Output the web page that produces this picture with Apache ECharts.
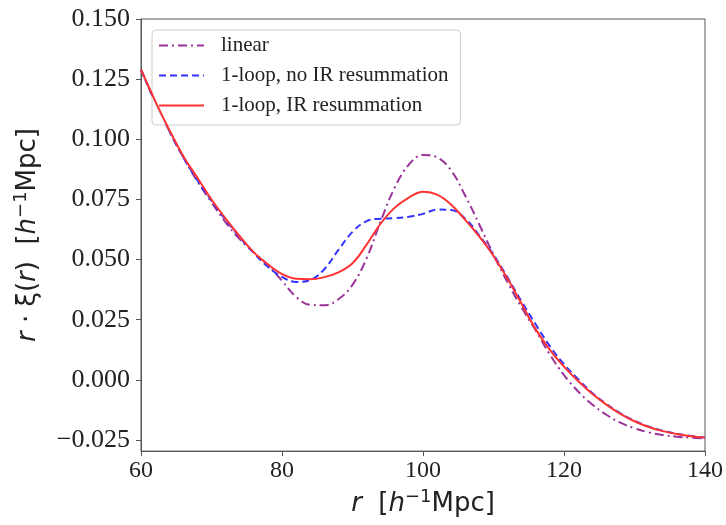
<!DOCTYPE html>
<html>
<head>
<meta charset="utf-8">
<script src="https://cdn.jsdelivr.net/npm/echarts@6/dist/echarts.min.js"></script>
<style>
  html, body { margin: 0; padding: 0; background: #fff; }
  #chart { width: 726px; height: 525px; }
</style>
</head>
<body>
<div id="chart"></div>
<script>
// r values [h^-1 Mpc], step 2
const radii = [60, 62, 64, 66, 68, 70, 72, 74, 76, 78, 80, 82, 84, 86, 88, 90, 92, 94, 96, 98, 100,
  102, 104, 106, 108, 110, 112, 114, 116, 118, 120, 122, 124, 126, 128, 130, 132, 134, 136, 138, 140]

// r * xi(r)
const linear = [0.129, 0.1155, 0.1035, 0.0925, 0.0825, 0.0738, 0.0655, 0.0585, 0.053, 0.0478, 0.0412,
  0.0345, 0.0312, 0.031, 0.0335, 0.0395, 0.0505, 0.066, 0.080, 0.0895, 0.0935,
  0.0925, 0.087, 0.0765, 0.0645, 0.052, 0.0405, 0.030, 0.0205, 0.0105, 0.002,
  -0.0048, -0.0102, -0.0145, -0.0178, -0.0201, -0.0218, -0.0229, -0.0236, -0.024, -0.0243]

const oneLoopNoIR = [0.129, 0.1155, 0.1035, 0.0925, 0.083, 0.0745, 0.0665, 0.0593, 0.0527, 0.047, 0.0428,
  0.0407, 0.0415, 0.046, 0.054, 0.0615, 0.066, 0.067, 0.0672, 0.0678, 0.069,
  0.0708, 0.0706, 0.067, 0.060, 0.052, 0.0425, 0.0325, 0.023, 0.014, 0.0065,
  0.0003, -0.0054, -0.010, -0.0139, -0.017, -0.0194, -0.0211, -0.0224, -0.0233, -0.024]

const oneLoopIR = [0.129, 0.116, 0.104, 0.093, 0.084, 0.075, 0.067, 0.0597, 0.053, 0.048, 0.044,
  0.042, 0.0418, 0.0427, 0.0447, 0.0485, 0.0562, 0.065, 0.0716, 0.0758, 0.0782,
  0.077, 0.0728, 0.0665, 0.0595, 0.0515, 0.042, 0.0315, 0.021, 0.0125, 0.0055,
  -0.0005, -0.0058, -0.0103, -0.0141, -0.0172, -0.0196, -0.0213, -0.0225, -0.0234, -0.024]

const xTicks = [60, 80, 100, 120, 140]
const yTicks = [-0.025, 0, 0.025, 0.05, 0.075, 0.1, 0.125, 0.15]

const serif = 'Liberation Serif'
const sans = 'DejaVu Sans'
const textColor = '#222'

function pairs (ys) {
  return radii.map((r, i) => [r, ys[i]])
}

const nameRich = {
  i: { fontFamily: sans, fontSize: 26, fontStyle: 'italic', color: textColor },
  n: { fontFamily: sans, fontSize: 26, color: textColor },
  sup: { fontFamily: sans, fontSize: 18, color: textColor, verticalAlign: 'top' }
}

const chart = echarts.init(document.getElementById('chart'), null, { renderer: 'canvas', width: 726, height: 525 })

const option = {
  animation: false,
  backgroundColor: '#fff',
  grid: {
    left: 141, right: 19, top: 19, bottom: 67,
    show: true, borderColor: '#555', borderWidth: 1, backgroundColor: 'transparent'
  },
  legend: {
    orient: 'vertical',
    left: 152,
    top: 30,
    padding: [5, 12, 9, 6],
    itemGap: 9,
    itemWidth: 45,
    itemHeight: 19,
    borderColor: '#ccc',
    borderWidth: 1,
    borderRadius: 4,
    backgroundColor: 'rgba(255,255,255,0.8)',
    itemStyle: { opacity: 0 },
    textStyle: { fontFamily: serif, fontSize: 21, color: textColor, padding: [0, 0, 0, 12] },
    data: ['linear', '1-loop, no IR resummation', '1-loop, IR resummation']
  },
  xAxis: {
    type: 'value',
    min: 60,
    max: 140,
    interval: 20,
    name: '{i|r}{n|  [}{i|h}{sup|−1}{n|Mpc]}',
    nameLocation: 'middle',
    nameGap: 32,
    nameTextStyle: { rich: nameRich, lineHeight: 32 },
    axisLine: { show: true, onZero: false, lineStyle: { color: '#555', width: 1 } },
    axisTick: { show: true, length: 5, lineStyle: { color: '#555' } },
    splitLine: { show: false },
    axisLabel: {
      fontFamily: serif, fontSize: 24, color: textColor, margin: 8,
      customValues: xTicks
    }
  },
  yAxis: {
    type: 'value',
    min: -0.0296,
    max: 0.15,
    name: '{i|r}{n| · ξ(}{i|r}{n|)  [}{i|h}{sup|−1}{n|Mpc]}',
    nameLocation: 'middle',
    nameGap: 97,
    nameRotate: 90,
    nameTextStyle: { rich: nameRich, lineHeight: 32 },
    axisLine: { show: true, onZero: false, lineStyle: { color: '#555', width: 1 } },
    axisTick: { show: true, length: 5, lineStyle: { color: '#555' }, customValues: yTicks },
    splitLine: { show: false },
    axisLabel: {
      fontFamily: serif, fontSize: 26, color: textColor, margin: 11,
      customValues: yTicks,
      formatter: v => (v < 0 ? '−' + (-v).toFixed(3) : v.toFixed(3))
    }
  },
  series: [
    {
      name: 'linear',
      type: 'line',
      data: pairs(linear),
      smooth: 0.4,
      showSymbol: false,
      symbol: 'none',
      z: 2,
      itemStyle: { color: '#993399' },
      lineStyle: { color: '#993399', width: 2, type: [9, 4, 2, 4] }
    },
    {
      name: '1-loop, no IR resummation',
      type: 'line',
      data: pairs(oneLoopNoIR),
      smooth: 0.4,
      showSymbol: false,
      symbol: 'none',
      z: 3,
      itemStyle: { color: '#3333ff' },
      lineStyle: { color: '#3333ff', width: 2, type: [7, 4] }
    },
    {
      name: '1-loop, IR resummation',
      type: 'line',
      data: pairs(oneLoopIR),
      smooth: 0.4,
      showSymbol: false,
      symbol: 'none',
      z: 4,
      itemStyle: { color: '#ff3333' },
      lineStyle: { color: '#ff3333', width: 2 }
    }
  ]
}

chart.setOption(option)
</script>
</body>
</html>
